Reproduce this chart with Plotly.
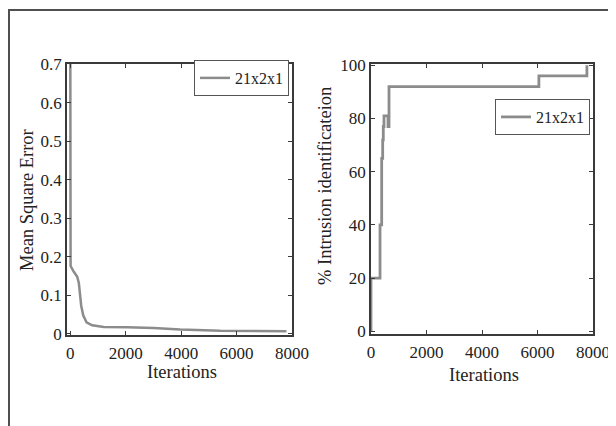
import plotly.graph_objects as go

# ---- data ----
mse_iter = [0, 10, 127, 249, 307, 343, 393, 465, 584, 789, 1207, 2049, 3007, 3968, 5408, 7800]
mse_vals = [0.70, 0.176, 0.161, 0.148, 0.132, 0.107, 0.073, 0.048, 0.030, 0.022, 0.018, 0.017, 0.015, 0.011, 0.008, 0.007]

acc_iter = [0, 0, 325, 385, 421, 443, 468, 613, 649, 6050, 7780]
acc_vals = [0, 20, 40, 65, 72, 77, 81, 77, 92, 96, 100]

x_ticks = [0, 2000, 4000, 6000, 8000]
mse_ticks = [0, 0.1, 0.2, 0.3, 0.4, 0.5, 0.6, 0.7]
acc_ticks = [0, 20, 40, 60, 80, 100]
series_name = "21x2x1"

# page body has an 8px margin; figure is sized to fill the rest of the window
OFF = 8
W, H = 616 - OFF, 426 - OFF
FONT = "Liberation Serif"
LINE_COL = "#8c8c8c"
AX_COL = "#3a3a3a"
TXT = "#222222"

def px_x(p):
    return (p - OFF) / W

def px_y(p):
    return 1 - (p - OFF) / H

fig = go.Figure()
fig.add_trace(go.Scatter(x=mse_iter, y=mse_vals, mode="lines", name=series_name,
                         line=dict(color=LINE_COL, width=2.5), xaxis="x", yaxis="y",
                         legend="legend"))
fig.add_trace(go.Scatter(x=acc_iter, y=acc_vals, mode="lines", name=series_name,
                         line=dict(color=LINE_COL, width=2.8, shape="hv"), xaxis="x2", yaxis="y2",
                         legend="legend2"))

axis_common = dict(showline=True, linecolor=AX_COL, linewidth=1.5, mirror="ticks",
                   ticks="inside", ticklen=4, tickcolor=AX_COL, showgrid=False, zeroline=False,
                   tickfont=dict(family=FONT, size=17, color=TXT), automargin=False)

fig.update_layout(
    width=W, height=H,
    margin=dict(l=0, r=0, t=0, b=0),
    paper_bgcolor="white", plot_bgcolor="white",
    xaxis=dict(domain=[px_x(67), px_x(292)], range=[-120, 8000], tickvals=x_ticks,
               tickformat="d", ticklabelstandoff=2, anchor="y", **axis_common),
    yaxis=dict(domain=[px_y(335), px_y(64)], range=[-0.003, 0.70], tickvals=mse_ticks,
               anchor="x", **axis_common),
    xaxis2=dict(domain=[px_x(371), px_x(593)], range=[0, 8000], tickvals=x_ticks,
                tickformat="d", ticklabelstandoff=2, anchor="y2", **axis_common),
    yaxis2=dict(domain=[px_y(334), px_y(64)], range=[-1, 100.5], tickvals=acc_ticks,
                anchor="x2", **axis_common),
    legend=dict(x=px_x(289), y=px_y(60), xanchor="right", yanchor="top",
                bordercolor="#555555", borderwidth=1, bgcolor="white",
                font=dict(family=FONT, size=16, color=TXT)),
    legend2=dict(x=px_x(590), y=px_y(99), xanchor="right", yanchor="top",
                 bordercolor="#555555", borderwidth=1, bgcolor="white",
                 font=dict(family=FONT, size=16, color=TXT)),
    showlegend=True,
    font=dict(family=FONT, size=16, color=TXT),
)

annots = [
    dict(text="Mean Square Error", x=px_x(27), y=px_y(200), textangle=-90),
    dict(text="% Intrusion identificateion", x=px_x(325), y=px_y(186), textangle=-90),
    dict(text="Iterations", x=px_x(182), y=px_y(372), textangle=0),
    dict(text="Iterations", x=px_x(484), y=px_y(375), textangle=0),
]
for a in annots:
    fig.add_annotation(xref="paper", yref="paper", showarrow=False,
                       xanchor="center", yanchor="middle",
                       font=dict(family=FONT, size=18.5, color=TXT), **a)

# outer frame (top and left edges)
fig.add_shape(type="line", xref="paper", yref="paper", x0=px_x(8), y0=px_y(10), x1=1, y1=px_y(10),
              line=dict(color="#505050", width=2))
fig.add_shape(type="line", xref="paper", yref="paper", x0=px_x(9), y0=px_y(10), x1=px_x(9), y1=0,
              line=dict(color="#505050", width=2))

fig.write_html("out.html")
